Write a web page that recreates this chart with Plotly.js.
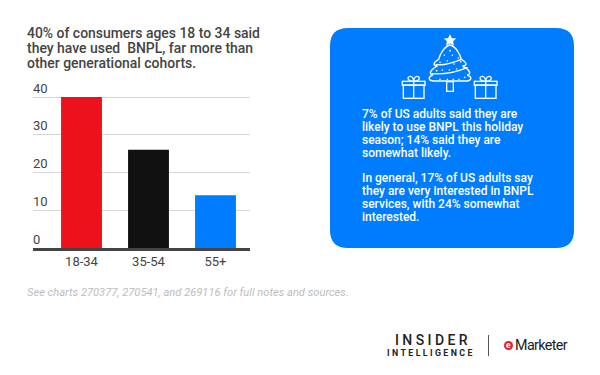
<!DOCTYPE html>
<html><head><meta charset="utf-8">
<script src="https://cdn.plot.ly/plotly-3.0.1.min.js"></script>
<style>html,body{margin:0;padding:0;background:#fff}#c{width:600px;height:375px}</style></head>
<body><div id="c"></div>
<script>
const categories = ['18-34','35-54','55+'];
const values = [40,26,14];
const barColors = ['#ec111a','#111111','#007cff'];
const yTicks = [0,10,20,30,40];
const titleLines = ['40% of consumers ages 18 to 34 said','they have used  BNPL, far more than','other generational cohorts.'];
const panelLines = ['7% of US adults said they are','likely to use BNPL this holiday','season; 14% said they are','somewhat likely.','','In general, 17% of US adults say','they are very interested in BNPL','services, with 24% somewhat','interested.'];
const note = 'See charts 270377, 270541, and 269116 for full notes and sources.';

const W=600,H=375;
const fx=x=>x/W, fy=y=>1-y/H;
const font='Roboto, sans-serif';
const ann=(text,x,y,size,color,extra={})=>Object.assign({text,xref:'paper',yref:'paper',x:fx(x),y:fy(y),xanchor:'left',yanchor:'middle',showarrow:false,align:'left',borderpad:0,borderwidth:0,font:{family:font,size,color}},extra);

const anns=[];
titleLines.forEach((t,i)=>anns.push(ann(t,27,33+i*15,13.95,'#444444',{font:{family:font,size:13.95,color:'#444444',weight:500}})));
panelLines.forEach((t,i)=>{if(t)anns.push(ann(t,362,114+i*12.85,12,'#ffffff',{font:{family:font,size:12,color:'#ffffff',weight:500}}))});
anns.push(ann(note,27,292.5,11.15,'#bdbdbd',{font:{family:font,size:11.15,color:'#bdbdbd',style:'italic'}}));
anns.push(ann('INSIDER',395,339.5,14,'#222222',{font:{family:font,size:14,color:'#222222',weight:500}}));
anns.push(ann('INTELLIGENCE',387,352.5,8.8,'#222222',{font:{family:font,size:8.8,color:'#222222',weight:700}}));
anns.push(ann('e',508.5,345.3,8.5,'#ffffff',{xanchor:'center',font:{family:font,size:8.5,color:'#ffffff',weight:700}}));
anns.push(ann('Marketer',514.5,345,14.3,'#222222',{font:{family:font,size:14.3,color:'#222222'}}));

const r=18,L=330,R=574,T=28,B=248;
const q=[['M',L+r,T],['L',R-r,T],['Q',R,T,R,T+r],['L',R,B-r],['Q',R,B,R-r,B],['L',L+r,B],['Q',L,B,L,B-r],['L',L,T+r],['Q',L,T,L+r,T]];
const panelPath=q.map(s=>{const o=[s[0]];for(let i=1;i<s.length;i+=2)o.push(fx(s[i])+','+fy(s[i+1]));return o.join(' ')}).join(' ')+' Z';

const gift=x=>`<g transform="translate(${x} 0)"><rect x="40" y="165" width="62" height="40"/><rect x="37" y="154" width="68" height="12"/><path d="M71 154V205M71 154C52 154 50 140 60 139C68 138 71 148 71 154C71 148 74 138 82 139C92 140 90 154 71 154"/></g>`;
const dots=[[180,62],[163,76],[187,76],[205,84],[150,97],[172,93],[192,102],[212,95],[140,122],[157,120],[178,120],[200,117],[222,112],[150,148],[172,148],[190,148],[207,148],[224,142]];
const tree=`<path d="M180 45C162 50 150 72 146 88C138 92 128 100 134 106C136 108 140 108 143 108C128 114 118 126 122 132C124 135 130 134 126 137C112 140 116 154 132 153L228 153C244 154 248 140 234 137C230 134 236 135 238 132C242 126 232 114 217 108C220 108 224 108 226 106C232 100 222 92 214 88C210 72 198 50 180 45Z"/><path d="M137 103C160 108 190 98 214 88M124 131C160 134 200 126 233 112"/><rect x="170" y="155" width="20" height="29"/><path d="M180 17L184 26L194 27L187 33L189 43L180 38L171 43L173 33L166 27L176 26Z" fill="#fff"/>`+dots.map(d=>`<circle cx="${d[0]}" cy="${d[1]}" r="2.5" fill="#fff" stroke="none"/>`).join('');
const svg=`<svg xmlns="http://www.w3.org/2000/svg" width="360" height="225" viewBox="0 0 360 225"><g fill="none" stroke="#fff" stroke-width="4">${gift(0)}${gift(216)}${tree}</g></svg>`;

const trace={type:'bar',x:categories,y:values,width:0.61,marker:{color:barColors,line:{width:0}},hoverinfo:'x+y'};
const layout={width:W,height:H,margin:{l:0,r:0,t:0,b:0,pad:0},paper_bgcolor:'rgba(0,0,0,0)',plot_bgcolor:'rgba(0,0,0,0)',showlegend:false,
 xaxis:{domain:[33/W,250/W],range:[-0.724,2.515],type:'category',categoryorder:'array',categoryarray:categories,showgrid:false,showline:true,linecolor:'#444444',linewidth:2.5,ticks:'',tickfont:{family:font,size:13,color:'#444444'},ticklabelstandoff:0,zeroline:false},
 yaxis:{domain:[1-248/H,1-59.25/H],range:[0,50],tickvals:yTicks,ticktext:yTicks.map(String),tickmode:'array',showgrid:true,gridcolor:'#d6d6d6',gridwidth:1,zeroline:false,showline:false,ticks:'',ticklabelposition:'inside',ticklabelshift:-9,ticklabelstandoff:-3,tickfont:{family:font,size:13,color:'#444444'}},
 annotations:anns,
 shapes:[
  {type:'path',xref:'paper',yref:'paper',path:panelPath,fillcolor:'#007cff',line:{width:0},layer:'below'},
  {type:'line',xref:'paper',yref:'paper',x0:fx(488.5),x1:fx(488.5),y0:fy(335),y1:fy(356),line:{color:'#555555',width:1}},
  {type:'circle',xref:'paper',yref:'paper',x0:fx(504),x1:fx(513),y0:fy(341),y1:fy(350),fillcolor:'#e8202a',line:{width:0},layer:'below'}
 ],
 images:[{source:'data:image/svg+xml;base64,'+btoa(svg),xref:'paper',yref:'paper',x:fx(390),y:fy(30),sizex:120/W,sizey:75/H,xanchor:'left',yanchor:'top',sizing:'stretch',layer:'above'}]
};
Plotly.newPlot('c',[trace],layout,{displayModeBar:false,staticPlot:true}).then(gd=>{
 gd.querySelectorAll('.annotation-text').forEach(t=>{
  const s=t.textContent;
  if(s==='INSIDER')t.style.letterSpacing='3.4px';
  if(s==='INTELLIGENCE')t.style.letterSpacing='2.4px';
  if(s==='Marketer')t.style.letterSpacing='-0.6px';
 });
});
</script></body></html>
